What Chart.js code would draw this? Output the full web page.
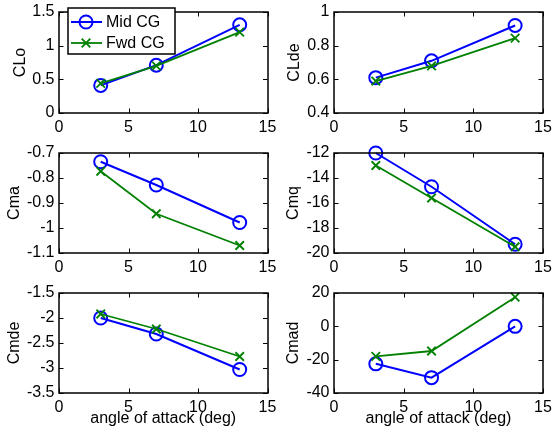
<!DOCTYPE html>
<html>
<head>
<meta charset="utf-8">
<script src="https://cdn.jsdelivr.net/npm/chart.js@4.4.1/dist/chart.umd.min.js"></script>
<style>
  body { margin: 0; background: #fff; }
  #wrap { position: relative; width: 552px; height: 438px; overflow: hidden; }
  canvas { position: absolute; }
</style>
</head>
<body>
<div id="wrap">
  <canvas id="p0" width="276" height="140" style="left:0;top:0"></canvas>
  <canvas id="p1" width="276" height="140" style="left:276px;top:0"></canvas>
  <canvas id="p2" width="276" height="140" style="left:0;top:140px"></canvas>
  <canvas id="p3" width="276" height="140" style="left:276px;top:140px"></canvas>
  <canvas id="p4" width="276" height="158" style="left:0;top:280px"></canvas>
  <canvas id="p5" width="276" height="158" style="left:276px;top:280px"></canvas>
</div>
<script>
/* ── Data ─────────────────────────────────────────────── */
const alpha  = [3, 7, 13];
const xTicks = [0, 5, 10, 15];

const cloMid  = [0.41, 0.71, 1.31];
const cloFwd  = [0.44, 0.70, 1.20];
const cldeMid = [0.61, 0.71, 0.92];
const cldeFwd = [0.59, 0.68, 0.845];
const cmaMid  = [-0.735, -0.828, -0.978];
const cmaFwd  = [-0.773, -0.943, -1.07];
const cmqMid  = [-12.0, -14.7, -19.3];
const cmqFwd  = [-13.0, -15.6, -19.5];
const cmdeMid = [-2.0, -2.32, -3.03];
const cmdeFwd = [-1.92, -2.22, -2.77];
const cmadMid = [-22.5, -30.8, 0];
const cmadFwd = [-18, -14.8, 17.5];

const cloTicks  = [0, 0.5, 1, 1.5];
const cldeTicks = [0.4, 0.6, 0.8, 1];
const cmaTicks  = [-1.1, -1, -0.9, -0.8, -0.7];
const cmqTicks  = [-20, -18, -16, -14, -12];
const cmdeTicks = [-3.5, -3, -2.5, -2, -1.5];
const cmadTicks = [-40, -20, 0, 20];

const seriesNames = ['Mid CG', 'Fwd CG'];

/* ── Style ────────────────────────────────────────────── */
const FONT  = 'Liberation Sans, Arial, sans-serif';
const FSIZE = 16;
const BLUE  = '#0000ff';
const GREEN = '#008000';

/* ── Panel layout (pixels inside each canvas) ─────────── */
const PANELS = [
  { id: 'p0', label: 'CLo',  mid: cloMid,  fwd: cloFwd,  ticks: cloTicks,  left: 59, right: 8, top: 12, xh: 27, tpad: 11.4, legend: true },
  { id: 'p1', label: 'CLde', mid: cldeMid, fwd: cldeFwd, ticks: cldeTicks, left: 58, right: 9, top: 12, xh: 27, tpad: 9.4 },
  { id: 'p2', label: 'Cma',  mid: cmaMid,  fwd: cmaFwd,  ticks: cmaTicks,  left: 59, right: 8, top: 13, xh: 27, tpad: 5 },
  { id: 'p3', label: 'Cmq',  mid: cmqMid,  fwd: cmqFwd,  ticks: cmqTicks,  left: 58, right: 9, top: 13, xh: 27, tpad: 8.4 },
  { id: 'p4', label: 'Cmde', mid: cmdeMid, fwd: cmdeFwd, ticks: cmdeTicks, left: 59, right: 8, top: 13, xh: 45, tpad: 5.4, xlabel: true },
  { id: 'p5', label: 'Cmad', mid: cmadMid, fwd: cmadFwd, ticks: cmadTicks, left: 58, right: 9, top: 13, xh: 45, tpad: 8, xlabel: true },
];

/* MATLAB-style box with inward ticks on all four sides */
const boxAxes = {
  id: 'boxAxes',
  afterDraw(chart) {
    const { ctx, chartArea: a, scales } = chart;
    const L = 4.5;
    ctx.save();
    ctx.strokeStyle = '#000';
    ctx.lineWidth = 1;
    ctx.beginPath();
    scales.x.ticks.forEach(t => {
      const px = Math.round(scales.x.getPixelForValue(t.value)) + 0.5;
      ctx.moveTo(px, a.bottom); ctx.lineTo(px, a.bottom - L);
      ctx.moveTo(px, a.top);    ctx.lineTo(px, a.top + L);
    });
    scales.y.ticks.forEach(t => {
      const py = Math.round(scales.y.getPixelForValue(t.value)) + 0.5;
      ctx.moveTo(a.left, py);  ctx.lineTo(a.left + L, py);
      ctx.moveTo(a.right, py); ctx.lineTo(a.right - L, py);
    });
    ctx.stroke();
    ctx.lineWidth = 1.5;
    ctx.strokeRect(Math.round(a.left), Math.round(a.top),
                   Math.round(a.right - a.left), Math.round(a.bottom - a.top));
    ctx.restore();
  }
};

/* Boxed legend drawn over the first panel */
const boxLegend = {
  id: 'boxLegend',
  afterDraw(chart, args, opts) {
    if (!opts.show) return;
    const ctx = chart.ctx;
    const x0 = 68, y0 = 8, w = 107, h = 46;
    ctx.save();
    ctx.fillStyle = '#fff';
    ctx.fillRect(x0, y0, w, h);
    ctx.strokeStyle = '#000';
    ctx.lineWidth = 1.5;
    ctx.strokeRect(x0, y0, w, h);
    chart.data.datasets.slice().sort((p, q) => p.legendRow - q.legendRow).forEach((ds, i) => {
      const y = y0 + 14 + i * 21;
      ctx.strokeStyle = ds.borderColor;
      ctx.lineWidth = ds.borderWidth;
      ctx.beginPath(); ctx.moveTo(71, y); ctx.lineTo(102, y); ctx.stroke();
      ctx.beginPath();
      if (ds.pointStyle === 'circle') {
        ctx.arc(86, y, ds.pointRadius, 0, Math.PI * 2);
      } else {
        const r = ds.pointRadius * 0.72;
        ctx.moveTo(86 - r, y - r); ctx.lineTo(86 + r, y + r);
        ctx.moveTo(86 - r, y + r); ctx.lineTo(86 + r, y - r);
      }
      ctx.lineWidth = ds.pointBorderWidth;
      ctx.stroke();
      ctx.fillStyle = '#000';
      ctx.font = FSIZE + 'px ' + FONT;
      ctx.textBaseline = 'middle';
      ctx.textAlign = 'left';
      ctx.fillText(ds.label, 106, y + 1);
    });
    ctx.restore();
  }
};

function points(ys) {
  return alpha.map((x, i) => ({ x, y: ys[i] }));
}

/* MATLAB prints 1 not 1.0 */
const plainNum = v => String(Math.round(v * 1e6) / 1e6);

function makePanel(p) {
  const ctx = document.getElementById(p.id).getContext('2d');
  return new Chart(ctx, {
    type: 'line',
    data: {
      datasets: [
        {
          label: seriesNames[1], legendRow: 1, order: 0,
          data: points(p.fwd),
          borderColor: GREEN, borderWidth: 1.8,
          pointStyle: 'crossRot', pointRadius: 6, pointBorderWidth: 1.8,
          pointBorderColor: GREEN, pointBackgroundColor: GREEN,
          clip: false,
        },
        {
          label: seriesNames[0], legendRow: 0, order: 1,
          data: points(p.mid),
          borderColor: BLUE, borderWidth: 2,
          pointStyle: 'circle', pointRadius: 6.5, pointBorderWidth: 2,
          pointBorderColor: BLUE, pointBackgroundColor: 'rgba(0,0,0,0)',
          clip: false,
        },
      ],
    },
    options: {
      responsive: false,
      animation: false,
      events: [],
      layout: { padding: { left: 0, right: p.right, top: p.top, bottom: 0 } },
      plugins: {
        legend: { display: false },
        tooltip: { enabled: false },
        boxLegend: { show: !!p.legend },
      },
      scales: {
        x: {
          type: 'linear',
          min: xTicks[0], max: xTicks[xTicks.length - 1],
          afterBuildTicks: s => { s.ticks = xTicks.map(v => ({ value: v })); },
          afterFit: s => { s.height = p.xh; s.paddingLeft = 0; s.paddingRight = 0; },
          grid: { display: false, drawTicks: false },
          border: { display: false },
          ticks: { color: '#000', font: { family: FONT, size: FSIZE }, padding: 5, maxRotation: 0, autoSkip: false, callback: plainNum },
          title: {
            display: !!p.xlabel, text: 'angle of attack (deg)', color: '#000',
            font: { family: FONT, size: FSIZE }, padding: { top: 0, bottom: 9.5 },
          },
        },
        y: {
          type: 'linear',
          min: p.ticks[0], max: p.ticks[p.ticks.length - 1],
          afterBuildTicks: s => { s.ticks = p.ticks.map(v => ({ value: v })); },
          afterFit: s => { s.width = p.left; s.paddingTop = 0; s.paddingBottom = 0; },
          grid: { display: false, drawTicks: false },
          border: { display: false },
          ticks: { color: '#000', font: { family: FONT, size: FSIZE }, padding: 4.5, autoSkip: false, callback: plainNum },
          title: {
            display: true, text: p.label, color: '#000',
            font: { family: FONT, size: FSIZE }, padding: { top: p.tpad, bottom: 0 },
          },
        },
      },
    },
    plugins: [boxAxes, boxLegend],
  });
}

PANELS.forEach(makePanel);
</script>
</body>
</html>
